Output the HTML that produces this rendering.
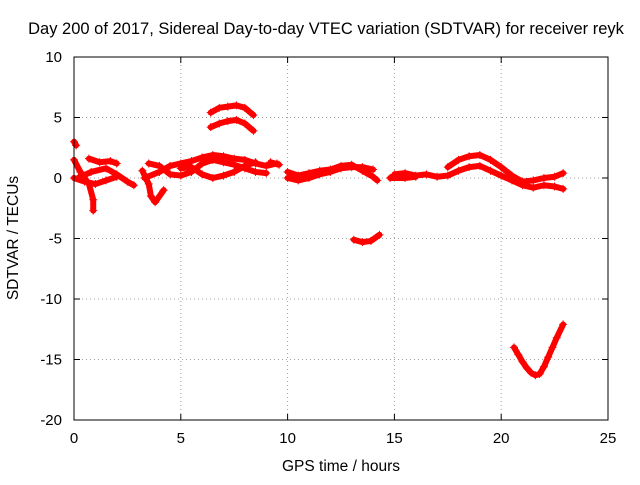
<!DOCTYPE html>
<html><head><meta charset="utf-8"><style>
body{margin:0;background:#fff}
svg text{font-family:"Liberation Sans",sans-serif;font-size:15px;fill:#000}
</style></head><body>
<svg id="chart" width="640" height="480" viewBox="0 0 640 480" xmlns="http://www.w3.org/2000/svg">
<rect width="640" height="480" fill="#fff"/>
<text x="326" y="34" text-anchor="middle" style="font-size:16.5px">Day 200 of 2017, Sidereal Day-to-day VTEC variation (SDTVAR) for receiver reyk</text>
<text x="341" y="471" text-anchor="middle" style="font-size:15.5px">GPS time / hours</text>
<text transform="translate(18,238) rotate(-90)" text-anchor="middle" style="font-size:15.5px">SDTVAR / TECUs</text>
<g id="grid"></g>
<g id="axes"></g>
<g id="marks"></g>
<rect x="74" y="57" width="534" height="363" fill="none" stroke="#000" stroke-width="1"/>
</svg>
<script>
const xTicks=[0,5,10,15,20,25];
const yTicks=[10,5,0,-5,-10,-15,-20];
const trackX=[
[6.4,6.8,7.2,7.6,8.0,8.4],
[6.4,6.8,7.2,7.6,8.0,8.4],
[13.1,13.5,13.9,14.3],
[20.6,20.8,21,21.2,21.4,21.6,21.8,22,22.2,22.4,22.6,22.9],
[0,0.1],
[0,0.3,0.7,0.9,0.9],
[0.2,0.8,1.5,2,2.5,2.8],
[0.7,1.2,1.7,2],
[0,0.5,1,1.5,2],
[3.2,3.5,3.6,3.8,4.2],
[3.3,4,4.5,5,5.5,6,6.5,7,7.5,8,8.5,9,9.5],
[3.5,4,4.5,5,5.5,6,6.5,7,7.5,8,8.5,9],
[5,5.5,6,6.5,7,7.5,8,8.5],
[9.2,9.6],
[10,10.5,11,11.5,12,12.5,13,13.5,14,14.2],
[10,10.5,11,11.5,12,12.5,13,13.5,14],
[15,15.5,16,16.5,17,17.5,18,18.5,19,19.5,20,20.5,21,21.5,22,22.5,22.9],
[17.5,18,18.5,19,19.5,20,20.5,21,21.5,22,22.5,22.9],
[14.8,15.5,16]
];
const trackY=[
[5.4,5.8,5.9,6.0,5.8,5.2],
[4.2,4.5,4.7,4.8,4.5,3.9],
[-5.1,-5.3,-5.2,-4.7],
[-14,-14.6,-15.2,-15.7,-16.1,-16.3,-16.2,-15.6,-14.8,-14,-13.2,-12.1],
[3,2.7],
[1.5,0.5,-0.5,-1.8,-2.7],
[0,0.5,0.8,0.3,-0.3,-0.6],
[1.6,1.3,1.4,1.2],
[0,-0.3,-0.5,-0.2,0.1],
[0.6,-0.5,-1.5,-2,-1],
[0,0.5,1,1.2,1.4,1.7,1.9,1.8,1.6,1.5,1.2,1,1.2],
[1.2,1,0.3,0.2,0.5,1.2,1.5,1.3,1.1,0.8,0.5,0.4],
[0.8,0.9,0.3,0,0.2,0.5,1,1.3],
[1.3,1.1],
[0.5,0.2,0.4,0.6,0.7,1,1.1,0.6,0.1,-0.2],
[0,-0.2,0,0.3,0.5,0.8,0.9,0.9,0.7],
[0.3,0.4,0.2,0.3,0.1,0.2,0.6,0.9,1,0.6,0.2,-0.2,-0.6,-0.8,-0.6,-0.7,-0.9],
[0.9,1.5,1.8,1.9,1.5,0.9,0.2,-0.3,-0.2,0,0.1,0.4],
[0,0,0.1]
];
const NS="http://www.w3.org/2000/svg";
const X0=74,X1=608,Y0=420,Y1=57;
function sx(v){return X0+(v-0)/(25-0)*(X1-X0);}
function sy(v){return Y0-(v+20)/(30)*(Y0-Y1);}
const grid=document.getElementById('grid'),axes=document.getElementById('axes'),marks=document.getElementById('marks');
function mk(tag,attrs,parent){const e=document.createElementNS(NS,tag);for(const k in attrs)e.setAttribute(k,attrs[k]);parent.appendChild(e);return e;}
xTicks.forEach(t=>{
  const x=sx(t);
  if(t>0&&t<25){const g=mk('line',{x1:x,x2:x,y1:Y1,y2:Y0,stroke:'#a0a0a0','stroke-dasharray':'1,3'},grid);
  
  }
  const l=mk('line',{x1:x,x2:x,y1:Y0,y2:Y0-6,stroke:'#000'},axes);
  
  
  const l2=mk('line',{x1:x,x2:x,y1:Y1,y2:Y1+6,stroke:'#000'},axes);
  
  
  const tx=mk('text',{x:x,y:443,'text-anchor':'middle'},axes);tx.textContent=t;
  
  
});
yTicks.forEach(t=>{
  const y=sy(t);
  if(t>-20&&t<10){const g=mk('line',{x1:X0,x2:X1,y1:y,y2:y,stroke:'#a0a0a0','stroke-dasharray':'1,3'},grid);
  
  }
  const l=mk('line',{x1:X0,x2:X0+6,y1:y,y2:y,stroke:'#000'},axes);
  
  
  const l2=mk('line',{x1:X1,x2:X1-6,y1:y,y2:y,stroke:'#000'},axes);
  
  
  const tx=mk('text',{x:62,y:y+5,'text-anchor':'end'},axes);tx.textContent=t;
  
  
});
trackX.forEach((xs,i)=>{
  const ys=trackY[i];
  const pts=xs.map((v,j)=>sx(v)+','+sy(ys[j])).join(' ');
  const p=mk('polyline',{points:pts,fill:'none',stroke:'#ff0000','stroke-width':6,'stroke-linejoin':'round','stroke-linecap':'round'},marks);
  
  
  xs.forEach((v,j)=>{
    const x=sx(v),y=sy(ys[j]);
    const m=mk('path',{d:`M${x-4},${y}H${x+4}M${x},${y-4}V${y+4}`,stroke:'#ff0000','stroke-width':1},marks);
    
    
  });
});
</script>
</body></html>
